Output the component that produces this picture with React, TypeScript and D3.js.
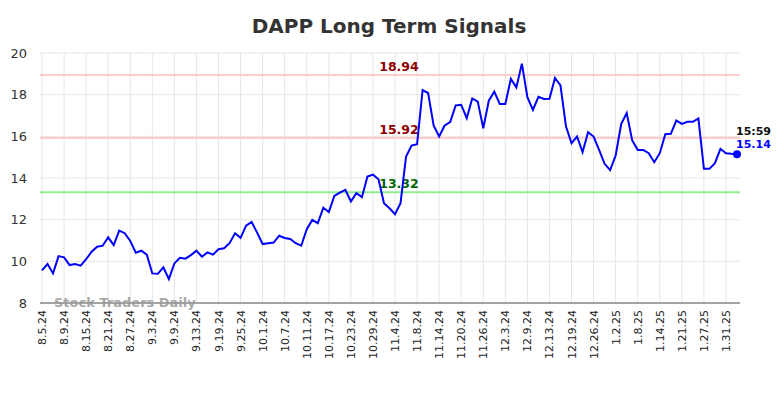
import React from "react";
import * as d3 from "d3";

const title = "DAPP Long Term Signals";
const tickLabels = [
  "8.5.24", "8.9.24", "8.15.24", "8.21.24", "8.27.24", "9.3.24", "9.9.24", "9.13.24",
  "9.19.24", "9.25.24", "10.1.24", "10.7.24", "10.11.24", "10.17.24", "10.23.24", "10.29.24",
  "11.4.24", "11.8.24", "11.14.24", "11.20.24", "11.26.24", "12.3.24", "12.9.24", "12.13.24",
  "12.19.24", "12.26.24", "1.2.25", "1.8.25", "1.14.25", "1.21.25", "1.27.25", "1.31.25",
];
const tickStep = 4;
const values = [
  9.57, 9.87, 9.42, 10.25, 10.19, 9.82, 9.87, 9.79, 10.1, 10.46,
  10.7, 10.75, 11.15, 10.78, 11.47, 11.35, 10.98, 10.41, 10.51, 10.32,
  9.42, 9.4, 9.71, 9.15, 9.9, 10.17, 10.13, 10.3, 10.51, 10.22,
  10.43, 10.32, 10.58, 10.63, 10.87, 11.35, 11.13, 11.71, 11.89, 11.38,
  10.83, 10.87, 10.9, 11.23, 11.12, 11.07, 10.87, 10.75, 11.54, 11.99,
  11.83, 12.58, 12.36, 13.14, 13.3, 13.43, 12.87, 13.27, 13.08, 14.07,
  14.16, 13.94, 12.79, 12.55, 12.26, 12.79, 15.03, 15.56, 15.62, 18.22,
  18.08, 16.52, 15.99, 16.52, 16.68, 17.48, 17.51, 16.87, 17.82, 17.67,
  16.39, 17.71, 18.14, 17.55, 17.55, 18.76, 18.35, 19.49, 17.88, 17.27,
  17.9, 17.79, 17.8, 18.8, 18.44, 16.47, 15.67, 15.99, 15.24, 16.2,
  15.99, 15.35, 14.68, 14.38, 15.08, 16.59, 17.12, 15.8, 15.35, 15.35,
  15.19, 14.76, 15.19, 16.1, 16.12, 16.76, 16.6, 16.7, 16.7, 16.86,
  14.44, 14.44, 14.71, 15.4, 15.19, 15.16, 15.14,
];
const yTicks = [8, 10, 12, 14, 16, 18, 20];
const signals = [
  { value: 18.94, label: "18.94", line: "#ffcccc", text: "#8b0000" },
  { value: 15.92, label: "15.92", line: "#ffcccc", text: "#8b0000" },
  { value: 13.32, label: "13.32", line: "#90ee90", text: "#006400" },
];
const lastTime = "15:59";
const watermark = "Stock Traders Daily";

export default function App() {
  const W = 784, H = 398;
  const left = 40, right = 740, top = 53, bottom = 303;
  const x = d3.scaleLinear().domain([0, values.length - 1]).range([42, 737]);
  const y = d3.scaleLinear().domain([8, 20]).range([bottom, top]);
  const line = d3.line<number>().x((_, i) => x(i)).y((d) => y(d));
  const font = "DejaVu Sans, sans-serif";
  const lastI = values.length - 1;
  const last = values[lastI];
  return (
    <svg width={W} height={H} style={{ position: "absolute", left: 0, top: 0 }} fontFamily={font}>
      <rect x={0} y={0} width={W} height={H} fill="#fff" />
      <text x={389} y={33} textAnchor="middle" fontSize={20} fontWeight="bold" fill="#333">{title}</text>
      {yTicks.map((t) => (
        <g key={t}>
          <line x1={left} x2={right} y1={y(t)} y2={y(t)} stroke="#e6e6e6" strokeWidth={1} />
          <text x={27} y={y(t) + 4.5} textAnchor="end" fontSize={13} fill="#333">{t}</text>
        </g>
      ))}
      {tickLabels.map((lab, k) => {
        const xi = x(k * tickStep);
        return (
          <g key={lab}>
            <line x1={xi} x2={xi} y1={top} y2={bottom} stroke="#e6e6e6" strokeWidth={1} />
            <text transform={`translate(${xi + 4},310) rotate(-90)`} textAnchor="end" fontSize={11} fill="#222">{lab}</text>
          </g>
        );
      })}
      {signals.map((s) => (
        <g key={s.label}>
          <line x1={left} x2={right} y1={y(s.value)} y2={y(s.value)} stroke={s.line} strokeWidth={2} />
          <text x={399} y={y(s.value) - 4} textAnchor="middle" fontSize={12.5} fontWeight="bold" fill={s.text}>{s.label}</text>
        </g>
      ))}
      <line x1={left} x2={right} y1={bottom} y2={bottom} stroke="#555" strokeWidth={1} />
      <text x={54} y={307} fontSize={13} fontWeight="bold" fill="#999" fillOpacity={0.85}>{watermark}</text>
      <path d={line(values) || ""} fill="none" stroke="#0000ff" strokeWidth={2} />
      <circle cx={x(lastI)} cy={y(last)} r={4} fill="#0000ff" />
      <text x={736} y={135} fontSize={11} fontWeight="bold" fill="#111">{lastTime}</text>
      <text x={736} y={148} fontSize={11} fontWeight="bold" fill="#0000ff">{last.toFixed(2)}</text>
    </svg>
  );
}
